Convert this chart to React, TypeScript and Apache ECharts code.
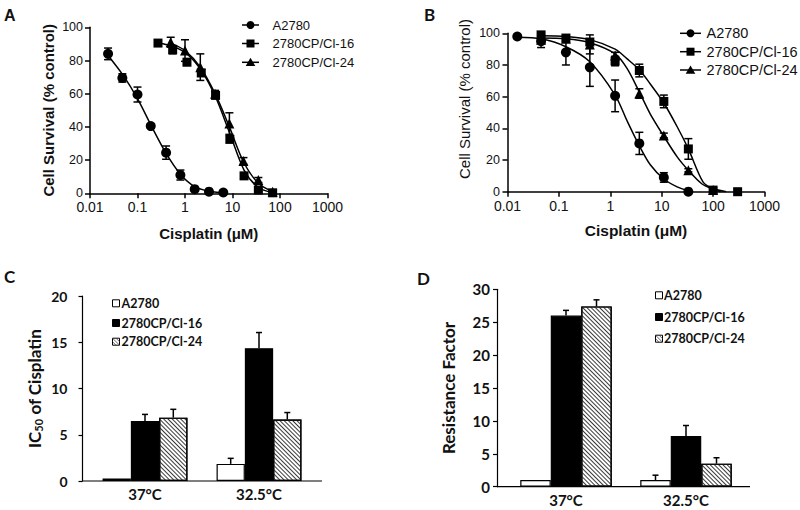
import React, { useEffect, useRef } from 'react';
import * as echarts from 'echarts';

// ---------- shared labels ----------
const SERIES_NAMES = ['A2780', '2780CP/Cl-16', '2780CP/Cl-24'];
const LOG_TICK_LABELS = ['0.01', '0.1', '1', '10', '100', '1000'];
const TEMPS = ['37°C', '32.5°C'];

// ---------- Panel A (measured points, mean ± error) ----------
const A_A2780_X = [0.024, 0.048, 0.1, 0.19, 0.4, 0.8, 1.6, 3.2, 6.4];
const A_A2780_Y = [84, 69.5, 59.5, 40.5, 24.5, 11, 2.5, 1, 0.5];
const A_A2780_ERR = [3.5, 2.5, 4.5, 1, 4, 3, 1, 0, 0];
const A_CL16_X = [0.27, 0.55, 1.1, 2.2, 4.4, 8.8, 17.5, 35, 70];
const A_CL16_Y = [90.5, 86.5, 79, 72.5, 59, 32.5, 10.5, 2, 0.3];
const A_CL16_ERR = [1.5, 2.5, 2, 2, 2, 2, 1.5, 1, 0];
const A_CL24_X = [0.5, 1.0, 2.1, 4.3, 8.6, 17, 35, 70];
const A_CL24_Y = [91, 86, 76, 60, 42, 19.5, 8, 1];
const A_CL24_ERR = [3, 6.5, 8, 2, 6.5, 2, 1.5, 0.5];
// fitted curves
const A_A2780_FIT_X = [0.024, 0.05, 0.1, 0.2, 0.4, 0.8, 1.6, 3.2, 6.4];
const A_A2780_FIT_Y = [83, 71, 57, 40, 24, 11.5, 4, 1.2, 0.3];
const A_CL16_FIT_X = [0.27, 0.55, 1.1, 2.2, 4.4, 8.8, 17.5, 35, 70];
const A_CL16_FIT_Y = [90.5, 88.5, 84, 74, 58, 36, 14, 3.5, 0.5];
const A_CL24_FIT_X = [0.5, 1.0, 2.1, 4.3, 8.6, 17, 35, 70];
const A_CL24_FIT_Y = [90.5, 86, 76, 60, 40, 19, 6, 1];

// ---------- Panel B ----------
const B_A2780_X = [0.0155, 0.045, 0.137, 0.4, 1.24, 3.67, 11, 33];
const B_A2780_Y = [98, 95, 88, 78.5, 60.5, 30.5, 9, 0];
const B_A2780_ERR = [0, 4, 8, 12, 10, 7, 3, 0];
const B_CL16_X = [0.045, 0.137, 0.4, 1.24, 3.67, 11, 33, 100, 300];
const B_CL16_Y = [99, 97, 94.5, 82.5, 76.5, 57, 27, 1, 0];
const B_CL16_ERR = [1, 1.5, 2, 3, 4, 4, 6.5, 1.5, 0];
const B_CL24_X = [0.045, 0.137, 0.4, 1.24, 3.67, 11, 33, 100];
const B_CL24_Y = [96, 96.5, 93, 86, 62, 35.5, 13.5, 1];
const B_CL24_ERR = [2, 1.5, 6, 2, 3, 1.5, 1, 1.5];
const B_A2780_FIT_X = [0.0155, 0.045, 0.137, 0.4, 1.24, 2.1, 3.67, 6, 11, 20, 33];
const B_A2780_FIT_Y = [97.5, 96.5, 91.5, 82, 61, 45, 29, 17, 8, 3, 0.5];
const B_CL16_FIT_X = [0.045, 0.137, 0.4, 1.24, 2.1, 3.67, 6, 11, 20, 33, 64, 100, 180];
const B_CL16_FIT_Y = [98.5, 98, 96, 90, 84, 77, 68, 56, 41, 27, 6, 2, 0];
const B_CL24_FIT_X = [0.045, 0.137, 0.4, 1.24, 2.1, 3.67, 6, 11, 20, 33, 60, 100, 140];
const B_CL24_FIT_Y = [97, 96.5, 94, 87, 78, 63, 49, 35, 22, 13.5, 5, 1.5, 0];

// ---------- Panel C: IC50 ----------
const C_A2780 = [0.27, 1.85];
const C_A2780_ERR = [0, 0.6];
const C_CL16 = [6.5, 14.35];
const C_CL16_ERR = [0.7, 1.7];
const C_CL24 = [6.85, 6.65];
const C_CL24_ERR = [0.9, 0.75];

// ---------- Panel D: resistance factor ----------
const D_A2780 = [1, 1];
const D_A2780_ERR = [0, 0.75];
const D_CL16 = [26, 7.7];
const D_CL16_ERR = [0.8, 1.6];
const D_CL24 = [27.4, 3.5];
const D_CL24_ERR = [1.0, 0.9];

const AB_FONT = '"Liberation Sans", Arial, sans-serif';
const CD_FONT = 'Lato, "Liberation Sans", sans-serif';
const SYMBOLS = ['circle', 'rect', 'triangle'];

const zip = (xs: number[], ys: number[]) => xs.map((x, i) => [x, ys[i]]);
const zip3 = (xs: number[], ys: number[], es: number[]) => xs.map((x, i) => [x, ys[i], es[i]]);

function curveErrRender(cap: number) {
  return (params: any, api: any) => {
    const x = api.value(0), y = api.value(1), e = api.value(2);
    if (!e) return { type: 'group', children: [] };
    const top = api.coord([x, y + e]);
    const bot = api.coord([x, Math.max(0, y - e)]);
    const style = { stroke: '#000', lineWidth: 1.5 };
    return {
      type: 'group',
      children: [
        { type: 'line', shape: { x1: top[0], y1: top[1], x2: bot[0], y2: bot[1] }, style },
        { type: 'line', shape: { x1: top[0] - cap, y1: top[1], x2: top[0] + cap, y2: top[1] }, style },
        { type: 'line', shape: { x1: bot[0] - cap, y1: bot[1], x2: bot[0] + cap, y2: bot[1] }, style },
      ],
    };
  };
}

function barErrRender(idx: number, barW: number, cap: number) {
  return (params: any, api: any) => {
    const c = api.value(0), v = api.value(1), e = api.value(2);
    if (!e) return { type: 'group', children: [] };
    const base = api.coord([c, v]);
    const top = api.coord([c, v + e]);
    const cx = base[0] + (idx - 1) * barW;
    const style = { stroke: '#000', lineWidth: 1.5 };
    return {
      type: 'group',
      children: [
        { type: 'line', shape: { x1: cx, y1: base[1], x2: cx, y2: top[1] }, style },
        { type: 'line', shape: { x1: cx - cap, y1: top[1], x2: cx + cap, y2: top[1] }, style },
      ],
    };
  };
}

const HATCH = {
  symbol: 'rect',
  symbolSize: 1,
  color: '#3a3a3a',
  dashArrayX: [1, 0],
  dashArrayY: [1, 1.8],
  rotation: Math.PI / 4,
};

export default function App() {
  const ref = useRef<HTMLDivElement>(null);
  useEffect(() => {
    document.body.style.margin = '0';
    const chart = echarts.init(ref.current!, null, { renderer: 'svg' });

    const curvePanels = [
      {
        pts: [zip3(A_A2780_X, A_A2780_Y, A_A2780_ERR), zip3(A_CL16_X, A_CL16_Y, A_CL16_ERR), zip3(A_CL24_X, A_CL24_Y, A_CL24_ERR)],
        fits: [zip(A_A2780_FIT_X, A_A2780_FIT_Y), zip(A_CL16_FIT_X, A_CL16_FIT_Y), zip(A_CL24_FIT_X, A_CL24_FIT_Y)],
      },
      {
        pts: [zip3(B_A2780_X, B_A2780_Y, B_A2780_ERR), zip3(B_CL16_X, B_CL16_Y, B_CL16_ERR), zip3(B_CL24_X, B_CL24_Y, B_CL24_ERR)],
        fits: [zip(B_A2780_FIT_X, B_A2780_FIT_Y), zip(B_CL16_FIT_X, B_CL16_FIT_Y), zip(B_CL24_FIT_X, B_CL24_FIT_Y)],
      },
    ];

    const series: any[] = [];
    curvePanels.forEach((p, g) => {
      p.pts.forEach((d) => {
        series.push({
          type: 'custom', xAxisIndex: g, yAxisIndex: g, data: d, z: 1,
          encode: { x: 0, y: 1 }, renderItem: curveErrRender(4), silent: true,
        });
      });
      p.fits.forEach((d, i) => {
        series.push({
          type: 'line', name: SERIES_NAMES[i], xAxisIndex: g, yAxisIndex: g, data: d, z: 2,
          showSymbol: false, smooth: 0.3, lineStyle: { color: '#000', width: 1.5 },
        });
      });
      p.pts.forEach((d, i) => {
        series.push({
          type: 'scatter', name: SERIES_NAMES[i], xAxisIndex: g, yAxisIndex: g,
          data: d.map((r) => [r[0], r[1]]), z: 3,
          symbol: SYMBOLS[i], symbolSize: i === 1 ? 9 : 10,
          itemStyle: { color: '#000', opacity: 1 },
        });
      });
    });

    const barPanels = [
      { g: 2, w: 28.3, vals: [C_A2780, C_CL16, C_CL24], errs: [C_A2780_ERR, C_CL16_ERR, C_CL24_ERR] },
      { g: 3, w: 30.5, vals: [D_A2780, D_CL16, D_CL24], errs: [D_A2780_ERR, D_CL16_ERR, D_CL24_ERR] },
    ];
    barPanels.forEach((p) => {
      p.vals.forEach((v, i) => {
        const itemStyle: any = { borderColor: '#000', borderWidth: 1.2 };
        if (i === 0) itemStyle.color = '#fff';
        if (i === 1) itemStyle.color = '#000';
        if (i === 2) { itemStyle.color = '#fff'; itemStyle.decal = HATCH; }
        series.push({
          type: 'bar', name: SERIES_NAMES[i], xAxisIndex: p.g, yAxisIndex: p.g,
          data: v, barWidth: p.w, barGap: '0%', itemStyle, z: 2,
        });
      });
      p.vals.forEach((v, i) => {
        series.push({
          type: 'custom', xAxisIndex: p.g, yAxisIndex: p.g, z: 3, silent: true,
          data: v.map((val, c) => [c, val, p.errs[i][c]]),
          encode: { x: 0, y: 1 }, renderItem: barErrRender(i, p.w, 3),
        });
      });
    });

    const logLabel = (v: number) => LOG_TICK_LABELS[Math.round(Math.log10(v)) + 2] ?? '';
    const abAxisLine = { lineStyle: { color: '#000', width: 1.5 } };
    const abTick = { show: true, inside: false, length: 5, lineStyle: { color: '#000', width: 1.5 } };

    const xAxis: any[] = [
      {
        gridIndex: 0, type: 'log', logBase: 10, min: 0.01, max: 1000, splitNumber: 5,
        axisLine: abAxisLine, axisTick: abTick, splitLine: { show: false }, minorTick: { show: false },
        axisLabel: { formatter: logLabel, fontFamily: AB_FONT, fontSize: 14, lineHeight: 14, color: '#111', margin: 7 },
        name: 'Cisplatin (μM)', nameLocation: 'middle', nameGap: 33,
        nameTextStyle: { fontFamily: AB_FONT, fontSize: 15, fontWeight: 'bold', color: '#111' },
      },
      {
        gridIndex: 1, type: 'log', logBase: 10, min: 0.01, max: 1000, splitNumber: 5,
        axisLine: abAxisLine, axisTick: abTick, splitLine: { show: false }, minorTick: { show: false },
        axisLabel: { formatter: logLabel, fontFamily: AB_FONT, fontSize: 14, lineHeight: 14, color: '#111', margin: 7.5 },
        name: 'Cisplatin (μM)', nameLocation: 'middle', nameGap: 31,
        nameTextStyle: { fontFamily: AB_FONT, fontSize: 15.5, fontWeight: 'bold', color: '#111' },
      },
      {
        gridIndex: 2, type: 'category', data: TEMPS, boundaryGap: true,
        axisLine: { show: false }, axisTick: { show: false },
        axisLabel: { fontFamily: CD_FONT, fontWeight: 'bold', fontSize: 15, color: '#111', margin: 5 },
      },
      {
        gridIndex: 3, type: 'category', data: TEMPS, boundaryGap: true,
        axisLine: { show: false }, axisTick: { show: false },
        axisLabel: { fontFamily: CD_FONT, fontWeight: 'bold', fontSize: 15, color: '#111', margin: 6 },
      },
    ];

    const cdTick = { show: true, inside: false, length: 4, lineStyle: { color: '#000', width: 1.2 } };
    const yAxis: any[] = [
      {
        gridIndex: 0, type: 'value', min: 0, max: 100, interval: 20,
        axisLine: { show: true, ...abAxisLine }, axisTick: abTick, splitLine: { show: false },
        axisLabel: { fontFamily: AB_FONT, fontSize: 12.5, lineHeight: 10, color: '#111', margin: 7 },
        name: 'Cell Survival (% control)', nameLocation: 'middle', nameGap: 34, nameRotate: 90,
        nameTextStyle: { fontFamily: AB_FONT, fontSize: 15, fontWeight: 'bold', color: '#111' },
      },
      {
        gridIndex: 1, type: 'value', min: 0, max: 100, interval: 20,
        axisLine: { show: true, ...abAxisLine }, axisTick: abTick, splitLine: { show: false },
        axisLabel: { fontFamily: AB_FONT, fontSize: 12.5, lineHeight: 10, color: '#111', margin: 7.5 },
      },
      {
        gridIndex: 2, type: 'value', min: 0, max: 20, interval: 5, offset: 5.5,
        axisLine: { show: true, lineStyle: { color: '#000', width: 1.2 } }, axisTick: cdTick, splitLine: { show: false },
        axisLabel: { fontFamily: CD_FONT, fontWeight: 'bold', fontSize: 14, color: '#111', margin: 15 },
        name: '{a|IC}{s|50}{a| of Cisplatin}', nameLocation: 'middle', nameGap: 39, nameRotate: 90,
        nameTextStyle: {
          rich: {
            a: { fontFamily: CD_FONT, fontSize: 17, fontWeight: 'bold', color: '#111' },
            s: { fontFamily: CD_FONT, fontSize: 11, fontWeight: 'bold', color: '#111', verticalAlign: 'bottom', padding: [8, 0, 0, 0] },
          },
        },
      },
      {
        gridIndex: 3, type: 'value', min: 0, max: 30, interval: 5, offset: 9,
        axisLine: { show: true, lineStyle: { color: '#000', width: 1.2 } }, axisTick: cdTick, splitLine: { show: false },
        axisLabel: { fontFamily: CD_FONT, fontWeight: 'bold', fontSize: 15, color: '#111', margin: 7 },
        name: 'Resistance Factor', nameLocation: 'middle', nameGap: 40, nameRotate: 90,
        nameTextStyle: { fontFamily: CD_FONT, fontSize: 17, fontWeight: 'bold', color: '#111' },
      },
    ];

    const grid = [
      { left: 90, top: 27.3, width: 237.5, height: 166 },
      { left: 507.5, top: 33.3, width: 257, height: 158.4 },
      { left: 88, top: 296, width: 228, height: 185 },
      { left: 506, top: 289.3, width: 240, height: 197.4 },
    ];

    // ---------- legends & panel letters (graphic) ----------
    const graphic: any[] = [];
    const lineLegend = (x1: number, x2: number, sx: number, tx: number, ys: number[], fs: number) => {
      ys.forEach((y, i) => {
        graphic.push({ type: 'line', shape: { x1, y1: y, x2, y2: y }, style: { stroke: '#000', lineWidth: 1.5 } });
        if (i === 0) graphic.push({ type: 'circle', shape: { cx: sx, cy: y, r: 4 }, style: { fill: '#000' } });
        if (i === 1) graphic.push({ type: 'rect', shape: { x: sx - 4, y: y - 4, width: 8, height: 8 }, style: { fill: '#000' } });
        if (i === 2) graphic.push({ type: 'polygon', shape: { points: [[sx, y - 4.5], [sx - 4.8, y + 3.8], [sx + 4.8, y + 3.8]] }, style: { fill: '#000' } });
        graphic.push({ type: 'text', x: tx, y, style: { text: SERIES_NAMES[i], font: `${fs}px ${AB_FONT}`, fill: '#111', verticalAlign: 'middle', align: 'left' } });
      });
    };
    lineLegend(242, 259, 250.5, 272.5, [25, 43.5, 62.3], 13);
    lineLegend(680, 701, 690.5, 706.5, [33.3, 51.7, 70], 14.5);

    const boxLegend = (bx: number, tx: number, ys: number[]) => {
      ys.forEach((y, i) => {
        const x0 = bx, y0 = y - 3.5;
        graphic.push({ type: 'rect', shape: { x: x0, y: y0, width: 7, height: 7 }, style: { fill: i === 1 ? '#000' : '#fff', stroke: '#000', lineWidth: 1 } });
        if (i === 2) {
          const st = { stroke: '#444', lineWidth: 0.8 };
          graphic.push({ type: 'line', shape: { x1: x0, y1: y0, x2: x0 + 7, y2: y0 + 7 }, style: st });
          graphic.push({ type: 'line', shape: { x1: x0 + 3.5, y1: y0, x2: x0 + 7, y2: y0 + 3.5 }, style: st });
          graphic.push({ type: 'line', shape: { x1: x0, y1: y0 + 3.5, x2: x0 + 3.5, y2: y0 + 7 }, style: st });
        }
        graphic.push({ type: 'text', x: tx, y, style: { text: SERIES_NAMES[i], font: `bold 12.5px ${CD_FONT}`, fill: '#111', verticalAlign: 'middle', align: 'left' } });
      });
    };
    boxLegend(112.5, 121.5, [303.3, 323, 341.7]);
    boxLegend(655.5, 664, [295.3, 317, 338.7]);

    // category x-axis lines spanning from y-axis to plot end
    graphic.push({ type: 'line', shape: { x1: 82.5, y1: 481, x2: 322, y2: 481 }, style: { stroke: '#000', lineWidth: 1.2 } });
    graphic.push({ type: 'line', shape: { x1: 497, y1: 486.7, x2: 750, y2: 486.7 }, style: { stroke: '#000', lineWidth: 1.2 } });

    // B y-axis title
    graphic.push({
      type: 'text', x: 464, y: 99, rotation: Math.PI / 2,
      style: { text: 'Cell Survival (% control)', font: `15px ${AB_FONT}`, fill: '#111', align: 'center', verticalAlign: 'middle' },
    });

    const letters = [
      { t: 'A', x: 4, y: 7, f: `bold 16px ${AB_FONT}` },
      { t: 'B', x: 424, y: 6, f: `bold 17px ${CD_FONT}` },
      { t: 'C', x: 4, y: 268, f: `bold 17px ${CD_FONT}` },
      { t: 'D', x: 417, y: 270, f: `bold 17px ${CD_FONT}` },
    ];
    letters.forEach((l) => graphic.push({ type: 'text', x: l.x, y: l.y, style: { text: l.t, font: l.f, fill: '#111' } }));

    chart.setOption({
      animation: false,
      backgroundColor: '#fff',
      grid,
      xAxis,
      yAxis,
      series,
      graphic,
    });
    return () => chart.dispose();
  }, []);
  return <div ref={ref} style={{ width: 800, height: 510 }} />;
}
